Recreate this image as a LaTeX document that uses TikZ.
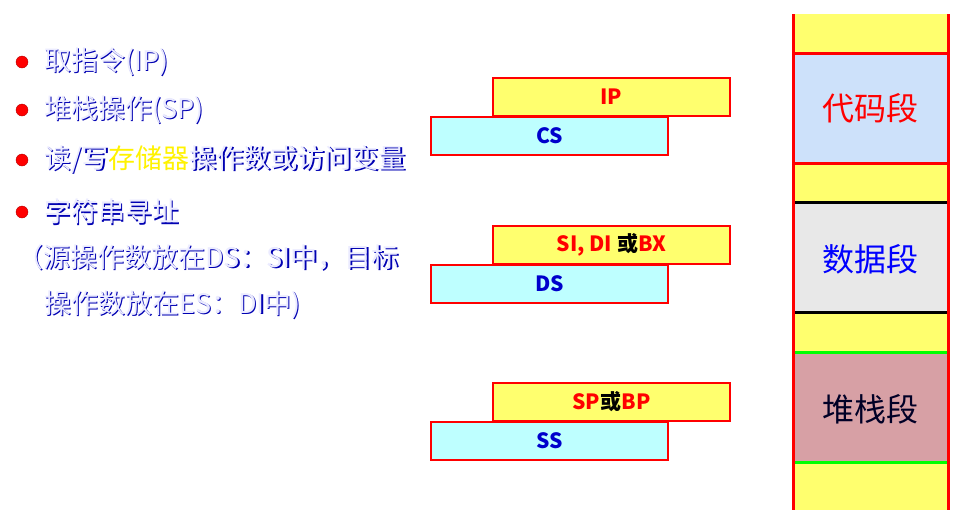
\documentclass[tikz,border=0pt]{standalone}
\usepackage{fontspec}
\setmainfont{Noto Sans CJK SC}
\usetikzlibrary{positioning}
\definecolor{regyellow}{RGB}{255,255,110}
\definecolor{regcyan}{RGB}{190,255,255}
\definecolor{codeblue}{RGB}{205,225,250}
\definecolor{datagray}{RGB}{232,232,232}
\definecolor{stackpink}{RGB}{215,160,165}
\newcommand{\shtext}[1]{\makebox[0pt][l]{\hspace{1.3pt}\raisebox{-1.3pt}{\color{blue!70!black}#1}}{\color{white!92!blue}#1}}
\tikzset{
    reg/.style={draw=red, line width=2pt, minimum width=237pt, minimum height=38pt, inner sep=0pt, font=\fontsize{21}{24}\selectfont\bfseries},
    ptr/.style={reg, fill=regyellow},
    seg/.style={reg, fill=regcyan, text=blue!80!black},
    item/.style={anchor=west, inner sep=0pt, font=\fontsize{27}{30}\selectfont},
    dot/.style={circle, fill=red, draw=red!70!black, minimum size=12pt, inner sep=0pt},
    segname/.style={font=\fontsize{32}{36}\selectfont}
}
\begin{document}
\begin{tikzpicture}[x=1pt, y=-1pt]
    \useasboundingbox (0,0) rectangle (960,512);

    % left list
    \foreach \yy/\nm in {62/d1, 110/d2, 160/d3, 212/d4}
        \node[dot] (\nm) at (22,\yy) {};
    \node[item] (t1) at (44,62) {\shtext{取指令(IP)}};
    \node[item] (t2) at (44,110) {\shtext{堆栈操作(SP)}};
    \node[item] (t3) at (44,160) {\shtext{读/写}\textcolor{yellow}{存储器}\shtext{操作数或访问变量}};
    \node[item] (t4) at (44,212) {\shtext{字符串寻址}};
    \node[item] (t5) at (16,258) {\shtext{（源操作数放在DS：SI中，目标}};
    \node[item] (t6) at (44,305) {\shtext{操作数放在ES：DI中)}};

    % registers
    \node[ptr, text=red] (ip) at (611.5,97) {IP};
    \node[seg] (cs) at (549.5,136) {CS};
    \node[ptr, text=red] (si) at (611.5,245) {SI, DI \textcolor{black}{或}BX};
    \node[seg] (ds) at (549.5,284) {DS};
    \node[ptr, text=red] (sp) at (611.5,402) {SP\textcolor{black}{或}BP};
    \node[seg] (ss) at (549.5,441) {SS};

    % memory column
    \fill[regyellow] (793,14) rectangle (948,510);
    \fill[codeblue] (793,53) rectangle (948,163);
    \fill[datagray] (793,202) rectangle (948,312);
    \fill[stackpink] (793,352) rectangle (948,462);
    \draw[red, line width=3pt] (793,53) -- (948,53) (793,163) -- (948,163);
    \draw[black, line width=3pt] (793,202) -- (948,202) (793,312) -- (948,312);
    \draw[green, line width=3pt] (793,352) -- (948,352) (793,462) -- (948,462);
    \draw[red, line width=3pt] (793,14) -- (793,510) (948,14) -- (948,510);
    \node[segname, text=red] (code) at (870.5,108) {代码段};
    \node[segname, text=blue] (data) at (870.5,259) {数据段};
    \node[segname, text=black!85!blue] (stack) at (870.5,409) {堆栈段};
\end{tikzpicture}
\end{document}
